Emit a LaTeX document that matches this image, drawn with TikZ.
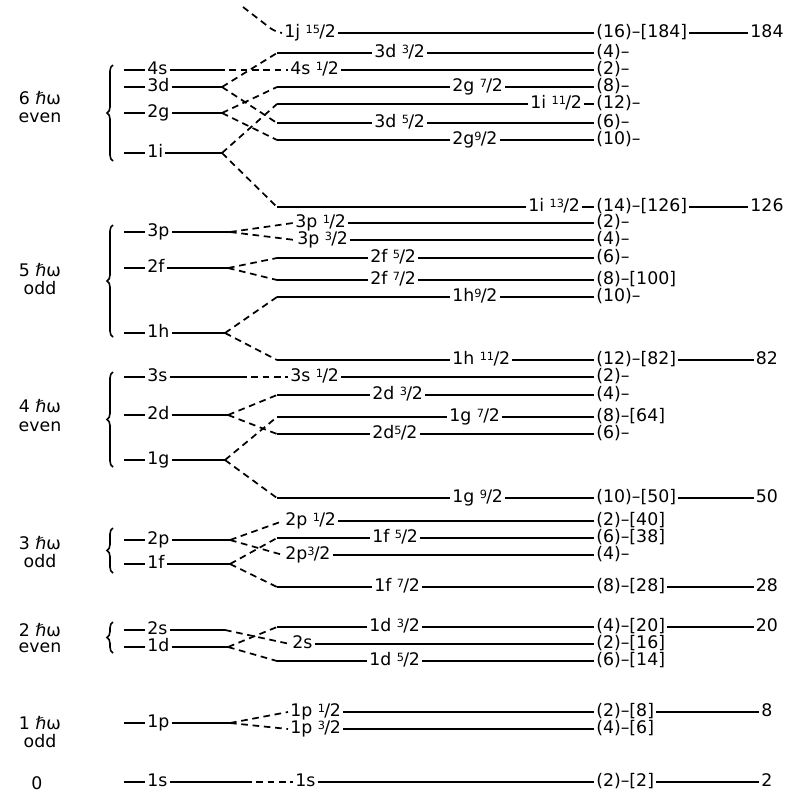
\documentclass[tikz,border=0pt]{standalone}
\usepackage{fontspec}
\setmainfont{DejaVu Sans}
\usetikzlibrary{decorations.pathreplacing}
\newcommand\hfr[2]{\raisebox{0.38ex}{\fontsize{8.5}{9}\selectfont #1}\kern-0.04em/\kern-0.02em#2}
\tikzset{
  lev/.style={line width=1.3pt},
  dsh/.style={line width=1.3pt, dash pattern=on 5pt off 3.5pt},
  txt/.style={font=\fontsize{13}{15}\selectfont, inner sep=1.5pt, text height=9pt, text depth=2.5pt},
  deg/.style={txt, anchor=west},
  brc/.style={line width=1.2pt, decorate, decoration={brace, amplitude=4.5pt}},
}
\newcommand\rlevel[6]{%
  \coordinate (#1-s) at (#3,#2);
  \node[txt, anchor=west] (#1-l) at (#4,#2) {#5};
  \node[deg] (#1-d) at (594,#2) {#6};
  \draw[lev] (#1-s) -- (#1-l.west);
  \draw[lev] (#1-l.east) -- (#1-d.west);}
\newcommand\rlevelD[6]{%
  \node[txt, anchor=west] (#1-l) at (#3,#2) {#4};
  \node[deg] (#1-d) at (594,#2) {#5};
  \draw[dsh] (#6) -- (#1-l.west);
  \draw[lev] (#1-l.east) -- (#1-d.west);}
\newcommand\llevel[4]{%
  \coordinate (#1-a) at (124,#2);
  \node[txt, anchor=west] (#1-l) at (145,#2) {#3};
  \coordinate (#1-f) at (#4,#2);
  \draw[lev] (#1-a) -- (#1-l.west);
  \draw[lev] (#1-l.east) -- (#1-f);}
\begin{document}
\begin{tikzpicture}[x=0.75pt,y=-0.75pt]
\useasboundingbox (0,0) rectangle (788,794);

% ---------- 6 hbar omega even ----------
\node[txt] (g6a) at (40,100) {6 ℏω};
\node[txt] (g6b) at (40,118) {even};
\draw[brc] (113,161) -- (113,65);
\llevel{L4s}{70}{4s}{218}
\llevel{L3d}{87}{3d}{222}
\llevel{L2g}{113}{2g}{222}
\llevel{L1i}{153}{1i}{222}

\coordinate (j15-top) at (243,7);
\node[txt, anchor=west] (j15-l) at (282,33) {1j \hfr{15}{2}};
\node[deg] (j15-d) at (594,33) {(16)–[184]};
\draw[dsh, rounded corners=4pt] (j15-top) -- (274,31) -- (j15-l.west);
\draw[lev] (j15-l.east) -- (j15-d.west);

\rlevel{d32a}{53}{277}{372}{3d \hfr32}{(4)–}
\rlevelD{s12a}{70}{288}{4s \hfr12}{(2)–}{L4s-f}
\rlevel{g72a}{87}{277}{450}{2g \hfr72}{(8)–}
\rlevel{i112}{104}{277}{528}{1i \hfr{11}2}{(12)–}
\rlevel{d52a}{123}{277}{372}{3d \hfr52}{(6)–}
\rlevel{g92a}{140}{277}{450}{2g\hfr92}{(10)–}
\rlevel{i132}{207}{277}{526}{1i \hfr{13}2}{(14)–[126]}
\draw[dsh] (L3d-f) -- (d32a-s);
\draw[dsh] (L3d-f) -- (d52a-s);
\draw[dsh] (L2g-f) -- (g72a-s);
\draw[dsh] (L2g-f) -- (g92a-s);
\draw[dsh] (L1i-f) -- (i112-s);
\draw[dsh] (L1i-f) -- (i132-s);

% ---------- 5 hbar omega odd ----------
\node[txt] (g5a) at (40,272) {5 ℏω};
\node[txt] (g5b) at (40,290) {odd};
\draw[brc] (113,337) -- (113,225);
\llevel{L3p}{232}{3p}{230}
\llevel{L2f}{268}{2f}{228}
\llevel{L1h}{333}{1h}{225}
\rlevelD{p12b}{223}{293}{3p \hfr12}{(2)–}{L3p-f}
\rlevelD{p32b}{240}{295}{3p \hfr32}{(4)–}{L3p-f}
\rlevel{f52b}{258}{277}{368}{2f \hfr52}{(6)–}
\rlevel{f72b}{280}{277}{368}{2f \hfr72}{(8)–[100]}
\rlevel{h92}{297}{277}{450}{1h\hfr92}{(10)–}
\rlevel{h112}{360}{277}{450}{1h \hfr{11}2}{(12)–[82]}
\draw[dsh] (L2f-f) -- (f52b-s);
\draw[dsh] (L2f-f) -- (f72b-s);
\draw[dsh] (L1h-f) -- (h92-s);
\draw[dsh] (L1h-f) -- (h112-s);

% ---------- 4 hbar omega even ----------
\node[txt] (g4a) at (40,408) {4 ℏω};
\node[txt] (g4b) at (40,427) {even};
\draw[brc] (113,467) -- (113,372);
\llevel{L3s}{377}{3s}{240}
\llevel{L2d}{415}{2d}{228}
\llevel{L1g}{460}{1g}{225}
\rlevelD{s12c}{377}{288}{3s \hfr12}{(2)–}{L3s-f}
\rlevel{d32c}{395}{277}{370}{2d \hfr32}{(4)–}
\rlevel{g72c}{417}{277}{447}{1g \hfr72}{(8)–[64]}
\rlevel{d52c}{434}{277}{370}{2d\hfr52}{(6)–}
\rlevel{g92c}{498}{277}{450}{1g \hfr92}{(10)–[50]}
\draw[dsh] (L2d-f) -- (d32c-s);
\draw[dsh] (L2d-f) -- (d52c-s);
\draw[dsh] (L1g-f) -- (g72c-s);
\draw[dsh] (L1g-f) -- (g92c-s);

% ---------- 3 hbar omega odd ----------
\node[txt] (g3a) at (40,545) {3 ℏω};
\node[txt] (g3b) at (40,563) {odd};
\draw[brc] (113,573) -- (113,528);
\llevel{L2p}{540}{2p}{230}
\llevel{L1f}{564}{1f}{230}
\rlevelD{p12d}{521}{283}{2p \hfr12}{(2)–[40]}{L2p-f}
\rlevel{f52d}{538}{277}{370}{1f \hfr52}{(6)–[38]}
\rlevelD{p32d}{555}{283}{2p\hfr32}{(4)–}{L2p-f}
\rlevel{f72d}{587}{277}{372}{1f \hfr72}{(8)–[28]}
\draw[dsh] (L1f-f) -- (f52d-s);
\draw[dsh] (L1f-f) -- (f72d-s);

% ---------- 2 hbar omega even ----------
\node[txt] (g2a) at (40,632) {2 ℏω};
\node[txt] (g2b) at (40,648) {even};
\draw[brc] (113,653) -- (113,622);
\llevel{L2s}{630}{2s}{225}
\llevel{L1d}{647}{1d}{228}
\rlevel{d32e}{627}{277}{367}{1d \hfr32}{(4)–[20]}
\rlevelD{s12e}{644}{290}{2s}{(2)–[16]}{L2s-f}
\rlevel{d52e}{661}{277}{367}{1d \hfr52}{(6)–[14]}
\draw[dsh] (L1d-f) -- (d32e-s);
\draw[dsh] (L1d-f) -- (d52e-s);

% ---------- 1 hbar omega odd ----------
\node[txt] (g1a) at (40,725) {1 ℏω};
\node[txt] (g1b) at (40,743) {odd};
\llevel{L1p}{723}{1p}{230}
\rlevelD{p12f}{712}{288}{1p \hfr12}{(2)–[8]}{L1p-f}
\rlevelD{p32f}{729}{288}{1p \hfr32}{(4)–[6]}{L1p-f}

% ---------- 0 ----------
\node[txt] (g0) at (37,785) {0};
\llevel{L1s}{782}{1s}{245}
\rlevelD{s12g}{782}{293}{1s}{(2)–[2]}{L1s-f}

% ---------- magic numbers ----------
\node[txt] (m184) at (767,33) {184};
\draw[lev] (j15-d.east) -- (m184.west);
\node[txt] (m126) at (767,207) {126};
\draw[lev] (i132-d.east) -- (m126.west);
\node[txt] (m82) at (767,360) {82};
\draw[lev] (h112-d.east) -- (m82.west);
\node[txt] (m50) at (767,498) {50};
\draw[lev] (g92c-d.east) -- (m50.west);
\node[txt] (m28) at (767,587) {28};
\draw[lev] (f72d-d.east) -- (m28.west);
\node[txt] (m20) at (767,627) {20};
\draw[lev] (d32e-d.east) -- (m20.west);
\node[txt] (m8) at (767,712) {8};
\draw[lev] (p12f-d.east) -- (m8.west);
\node[txt] (m2) at (767,782) {2};
\draw[lev] (s12g-d.east) -- (m2.west);
\end{tikzpicture}
\end{document}
